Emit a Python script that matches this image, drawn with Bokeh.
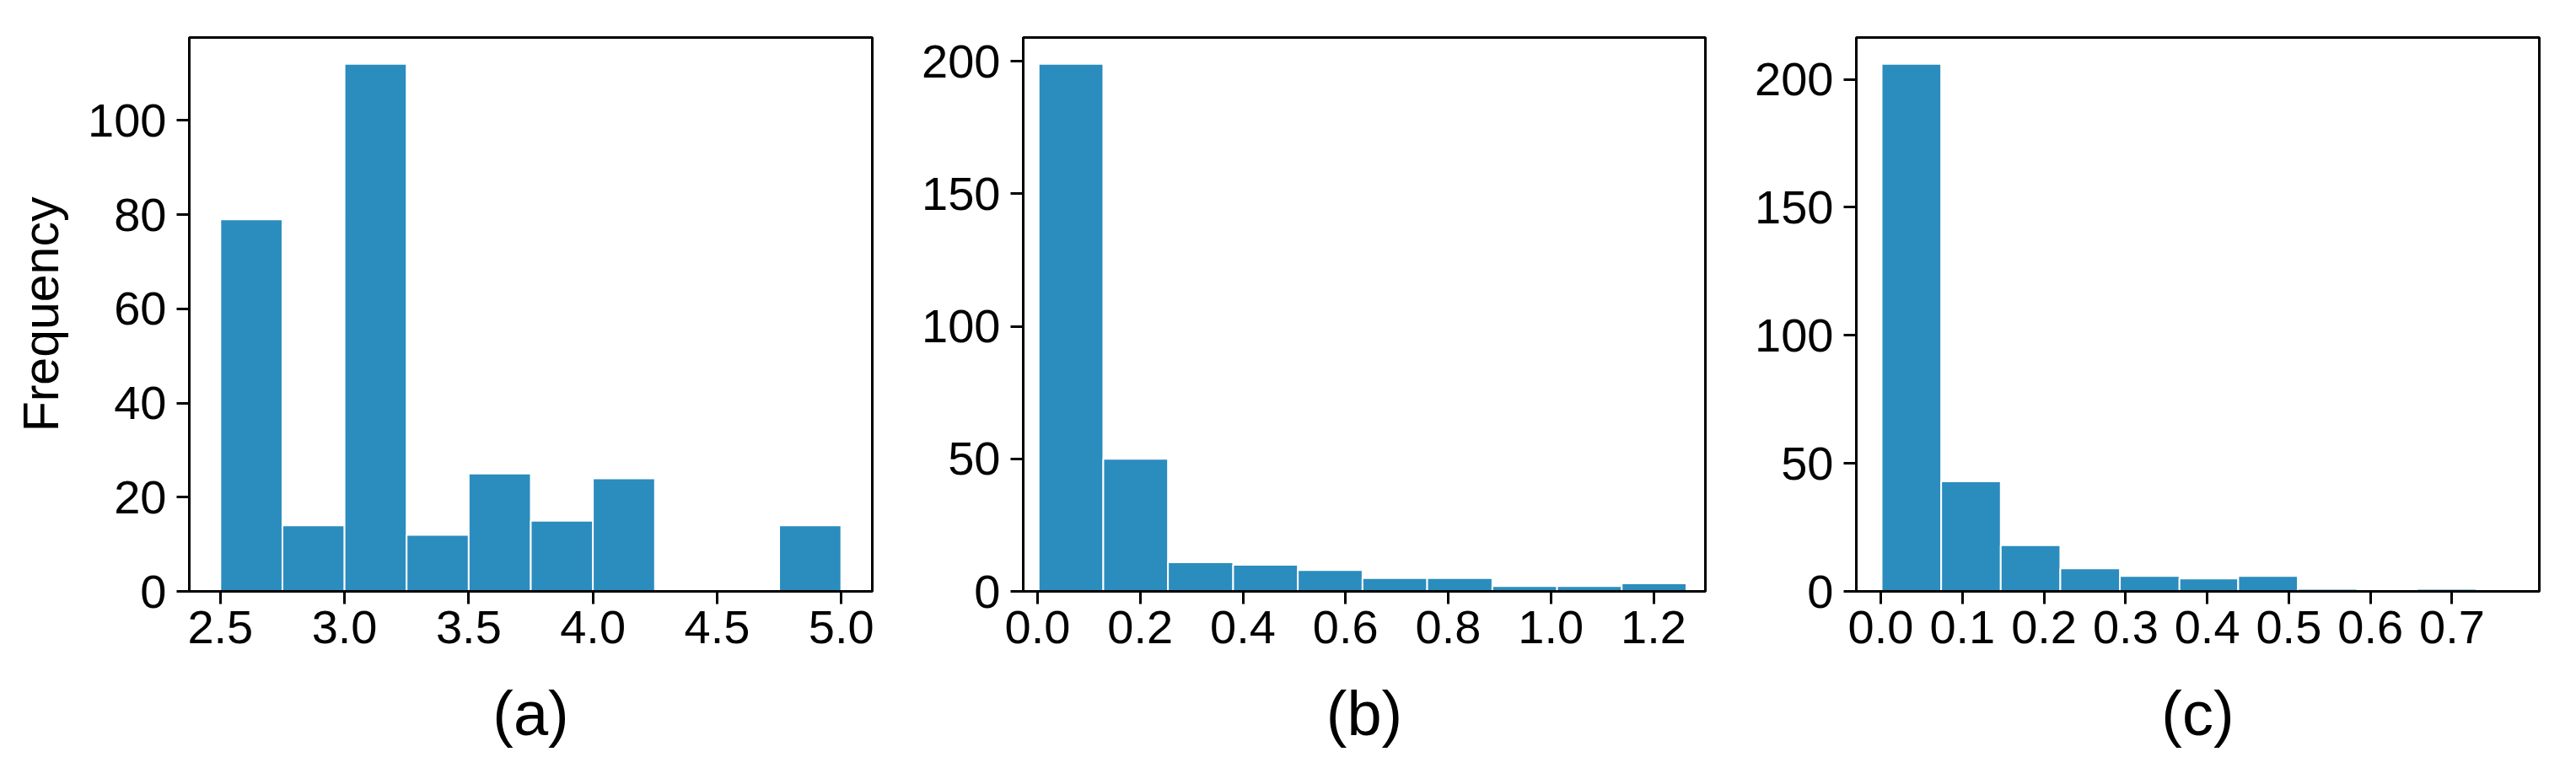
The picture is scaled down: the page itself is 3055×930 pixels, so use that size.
from bokeh.plotting import figure
from bokeh.layouts import row
from bokeh.models import FixedTicker, PrintfTickFormatter, Range1d
from bokeh.embed import file_html
from bokeh.resources import INLINE

# ---- data ----
edges_a = [2.5, 2.75, 3.0, 3.25, 3.5, 3.75, 4.0, 4.25, 4.5, 4.75, 5.0]
counts_a = [79, 14, 112, 12, 25, 15, 24, 0, 0, 14]

edges_b = [0.002, 0.128, 0.254, 0.381, 0.507, 0.633, 0.759, 0.886, 1.012, 1.138, 1.264]
counts_b = [199, 50, 11, 10, 8, 5, 5, 2, 2, 3]

edges_c = [0.001, 0.074, 0.147, 0.220, 0.293, 0.366, 0.438, 0.511, 0.584, 0.657, 0.730]
counts_c = [206, 43, 18, 9, 6, 5, 6, 1, 0, 1]

xticks_a = [2.5, 3.0, 3.5, 4.0, 4.5, 5.0]
xticks_b = [0.0, 0.2, 0.4, 0.6, 0.8, 1.0, 1.2]
xticks_c = [0.0, 0.1, 0.2, 0.3, 0.4, 0.5, 0.6, 0.7]
yticks_a = [0, 20, 40, 60, 80, 100]
yticks_bc = [0, 50, 100, 150, 200]

labels = ["(a)", "(b)", "(c)"]
ylabel = "Frequency"

FONT = "Liberation Sans"
BAR = "#2b8cbe"
FRAME_H = 657
TOP = 44
BOTTOM = 215


def make(edges, counts, xr, yr, xticks, yticks, label, left_border, right_border, frame_w, ylab=None):
    p = figure(width=left_border + frame_w + right_border, height=TOP + FRAME_H + BOTTOM,
               x_range=Range1d(*xr), y_range=Range1d(*yr),
               output_backend="svg", toolbar_location=None,
               min_border_left=left_border, min_border_right=right_border,
               min_border_top=TOP, min_border_bottom=BOTTOM)
    p.quad(left=edges[:-1], right=edges[1:], bottom=0, top=counts,
           fill_color=BAR, line_color="white", line_width=2)
    p.grid.visible = False
    p.outline_line_color = "black"
    p.outline_line_width = 3
    p.outline_line_alpha = 1
    p.background_fill_color = "white"
    for ax in (p.xaxis[0], p.yaxis[0]):
        ax.axis_line_width = 3
        ax.axis_line_color = "black"
        ax.major_tick_line_width = 3
        ax.major_tick_line_color = "black"
        ax.major_tick_out = 15
        ax.major_tick_in = 0
        ax.minor_tick_line_color = None
        ax.major_label_text_font = FONT
        ax.major_label_text_font_size = "56px"
        ax.major_label_text_color = "black"
        ax.axis_label_text_font = FONT
        ax.axis_label_text_font_style = "normal"
        ax.axis_label_text_color = "black"
    p.xaxis[0].ticker = FixedTicker(ticks=xticks)
    p.xaxis[0].formatter = PrintfTickFormatter(format="%.1f")
    p.xaxis[0].major_label_standoff = 8
    p.xaxis[0].axis_label = label
    p.xaxis[0].axis_label_text_font_size = "74px"
    p.xaxis[0].axis_label_standoff = 39
    p.yaxis[0].ticker = FixedTicker(ticks=yticks)
    p.yaxis[0].major_label_standoff = 12
    if ylab:
        p.yaxis[0].axis_label = ylab
        p.yaxis[0].axis_label_text_font_size = "59px"
        p.yaxis[0].axis_label_standoff = 19
    return p


pa = make(edges_a, counts_a, (2.375, 5.125), (0, 117.6), xticks_a, yticks_a, labels[0], 224, 26, 810, ylabel)
pb = make(edges_b, counts_b, (-0.028, 1.301), (0, 208.95), xticks_b, yticks_bc, labels[1], 153, 38, 809)
pc = make(edges_c, counts_c, (-0.030, 0.807), (0, 216.3), xticks_c, yticks_bc, labels[2], 141, 30, 810)

layout = row(pa, pb, pc)
open("out.html", "w").write(file_html(layout, INLINE))
